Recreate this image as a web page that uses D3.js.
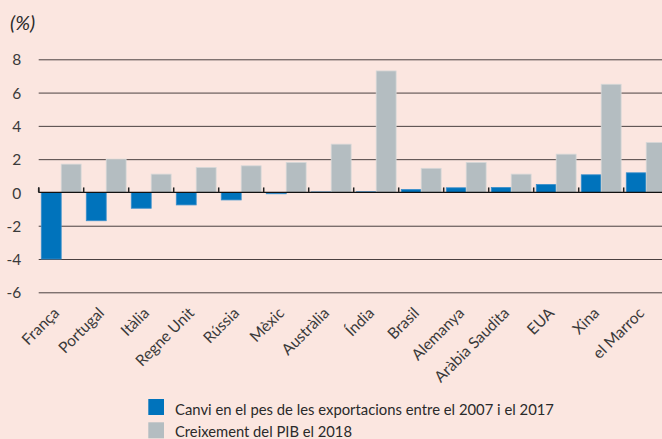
<!DOCTYPE html>
<html lang="ca">
<head>
<meta charset="utf-8">
<title>Exportacions i PIB</title>
<script src="https://d3js.org/d3.v7.min.js"></script>
<style>
  body { margin: 0; background: #fbe6e0; }
  svg { display: block; font-family: Lato, "Open Sans", sans-serif; }
  .grid line { stroke: #4a4040; stroke-width: 1; }
</style>
</head>
<body>
<svg id="chart"></svg>
<script>
var width = 662, height = 439;

var countries = ["França", "Portugal", "Itàlia", "Regne Unit", "Rússia", "Mèxic", "Austràlia",
  "Índia", "Brasil", "Alemanya", "Aràbia Saudita", "EUA", "Xina", "el Marroc"];
var exportShare = [-4.0, -1.7, -0.95, -0.75, -0.45, -0.08, 0.03, 0.04, 0.18, 0.28, 0.3, 0.48, 1.06, 1.18];
var gdpGrowth = [1.7, 2.0, 1.1, 1.5, 1.6, 1.8, 2.9, 7.3, 1.45, 1.8, 1.1, 2.3, 6.5, 3.0];
var yTicks = [-6, -4, -2, 0, 2, 4, 6, 8];
var legendLabels = ["Canvi en el pes de les exportacions entre el 2007 i el 2017", "Creixement del PIB el 2018"];
var legendWidths = [379, 177];
var colors = ["#0073bc", "#b4bdc1"];

var svg = d3.select("#chart").attr("width", width).attr("height", height);

var x = d3.scaleBand().domain(countries).range([38.7, 668.7]).paddingInner(0).paddingOuter(0);
var inner = d3.scaleBand().domain([0, 1]).range([0, x.bandwidth()]).paddingOuter(0.13).paddingInner(0);
var y = d3.scaleLinear().domain([-6, 8]).range([292.3, 59.3]);

// y gridlines + labels (plain hyphen for negatives, like the original)
var yAxis = d3.axisLeft(y).tickValues(yTicks).tickSize(-(width - 38.7)).tickFormat(function(d) { return String(d); });
var gy = svg.append("g").attr("class", "grid").attr("transform", "translate(38.7,0)").call(yAxis);
gy.select(".domain").remove();
gy.selectAll("text").attr("x", -17.5).attr("dy", "0.36em")
  .style("font-size", "15.5px").style("fill", "#3a3a3a").style("font-family", "Lato, sans-serif");
gy.selectAll(".tick line").filter(function(d) { return d === 0; }).remove();

// bars
var series = [exportShare, gdpGrowth];
series.forEach(function(vals, s) {
  svg.append("g").selectAll("rect")
    .data(vals)
    .enter().append("rect")
    .attr("x", function(d, i) { return x(countries[i]) + inner(s); })
    .attr("y", function(d) { return y(Math.max(0, d)); })
    .attr("width", inner.bandwidth())
    .attr("height", function(d) { return Math.abs(y(d) - y(0)); })
    .attr("fill", colors[s])
    .attr("stroke", s === 1 ? "#d6d8d8" : "#3a8fcc")
    .attr("stroke-width", 0.8);
});

// zero axis with upward ticks
var xAxis = d3.axisBottom(x).tickSizeInner(-5).tickSizeOuter(0).tickFormat("");
var gx = svg.append("g").attr("transform", "translate(0," + y(0) + ")").call(xAxis);
gx.select(".domain").attr("d", "M38.7,0H" + width).attr("stroke", "#111").attr("stroke-width", 1.3);
gx.selectAll(".tick").attr("transform", function(d) { return "translate(" + x(d) + ",0)"; });
gx.selectAll(".tick line").attr("stroke", "#222").attr("stroke-width", 1.5);
svg.append("line").attr("x1", 38.7).attr("x2", 38.7).attr("y1", y(0) - 5).attr("y2", y(0))
  .attr("stroke", "#222").attr("stroke-width", 1.5);

// category labels, rotated 45 degrees
svg.append("g").selectAll("g")
  .data(countries)
  .enter().append("g")
  .attr("transform", function(d) { return "translate(" + (x(d) + x.bandwidth() / 2 - 1) + ",314) rotate(-45)"; })
  .append("text")
  .attr("text-anchor", "end")
  .style("font-size", "15.5px")
  .style("fill", "#3a3a3a")
  .text(function(d) { return d; });

// unit title
svg.append("text").attr("x", 10).attr("y", 30)
  .style("font-size", "20px").style("font-style", "italic").style("fill", "#2a2a2a")
  .text("(%)");

// legend
var lg = svg.append("g").selectAll("g").data(legendLabels).enter().append("g")
  .attr("transform", function(d, i) { return "translate(148.3," + (399 + i * 23.3) + ")"; });
lg.append("rect").attr("width", 15.7).attr("height", 16).attr("fill", function(d, i) { return colors[i]; });
lg.append("text").attr("x", 26.7).attr("y", function(d, i) { return i ? 14.4 : 16; })
  .attr("textLength", function(d, i) { return legendWidths[i]; })
  .attr("lengthAdjust", "spacingAndGlyphs")
  .style("font-size", "16px").style("fill", "#2a2a2a")
  .text(function(d) { return d; });
</script>
</body>
</html>
